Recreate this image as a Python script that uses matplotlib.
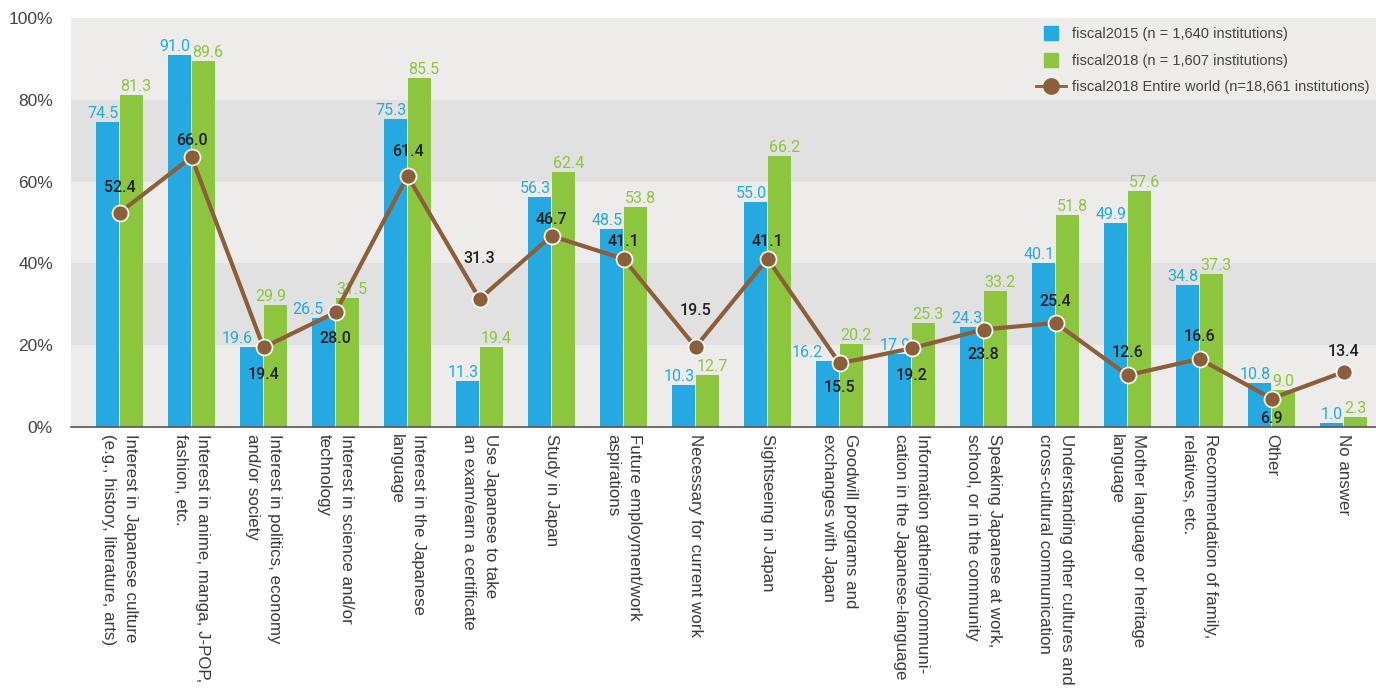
import matplotlib
matplotlib.use("Agg")
import matplotlib.pyplot as plt
from matplotlib.lines import Line2D
import numpy as np

categories = [
    "Interest in Japanese culture\n(e.g., history, literature, arts)",
    "Interest in anime, manga, J-POP,\nfashion, etc.",
    "Interest in politics, economy\nand/or society",
    "Interest in science and/or\ntechnology",
    "Interest in the Japanese\nlanguage",
    "Use Japanese to take\nan exam/earn a certificate",
    "Study in Japan",
    "Future employment/work\naspirations",
    "Necessary for current work",
    "Sightseeing in Japan",
    "Goodwill programs and\nexchanges with Japan",
    "Information gathering/communi-\ncation in the Japanese-language",
    "Speaking Japanese at work,\nschool, or in the community",
    "Understanding other cultures and\ncross-cultural communication",
    "Mother language or heritage\nlanguage",
    "Recommendation of family,\nrelatives, etc.",
    "Other",
    "No answer",
]
fiscal2015 = [74.5, 91.0, 19.6, 26.5, 75.3, 11.3, 56.3, 48.5, 10.3, 55.0,
              16.2, 17.9, 24.3, 40.1, 49.9, 34.8, 10.8, 1.0]
fiscal2018 = [81.3, 89.6, 29.9, 31.5, 85.5, 19.4, 62.4, 53.8, 12.7, 66.2,
              20.2, 25.3, 33.2, 51.8, 57.6, 37.3, 9.0, 2.3]
world2018 = [52.4, 66.0, 19.4, 28.0, 61.4, 31.3, 46.7, 41.1, 19.5, 41.1,
             15.5, 19.2, 23.8, 25.4, 12.6, 16.6, 6.9, 13.4]
series_names = ["fiscal2015 (n = 1,640 institutions)",
                "fiscal2018 (n = 1,607 institutions)",
                "fiscal2018 Entire world (n=18,661 institutions)"]
yticks = [0, 20, 40, 60, 80, 100]

# layout tweaks for labels (pixels)
world_dy = [25, 17, -27, -26, 24, 40, 16, 17, 37, 17, -24, -27, -25, 21, 23, 22, -20, 20]
blue_dx = [0, 0, -10, -11, 0, 0, 0, 0, 0, 0, -16, 0, 0, 0, 0, 0, 0, 0]
green_dx = [0, 0, -9, 0, 0, 0, 0, 0, 0, 0, 0, 0, 0, 0, 0, 0, 0, 0]

BLUE = "#25A9E0"
GREEN = "#8CC63F"
BROWN = "#8C5F3A"
DARK = "#231F20"
BAND_L = "#EDECEA"
BAND_D = "#E1E1E1"

fig = plt.figure(figsize=(13.76, 6.91), dpi=100)
ax = fig.add_axes([71/1376, (691-426.7)/691, 1 - 71/1376, (426.7-18.3)/691])

x = np.arange(len(categories))
w = 0.32
off = 0.167

# background bands
for i, (lo, hi) in enumerate(zip(yticks[:-1], yticks[1:])):
    ax.axhspan(lo, hi, color=BAND_D if i % 2 == 1 else BAND_L, zorder=0, lw=0)

ax.bar(x - off, fiscal2015, width=w, color=BLUE, zorder=2, lw=0)
ax.bar(x + off, fiscal2018, width=w, color=GREEN, zorder=2, lw=0)
ax.plot(x, world2018, color=BROWN, lw=3.0, marker="o", markersize=11.5,
        markerfacecolor=BROWN, markeredgecolor="white", markeredgewidth=1.2,
        zorder=4)

numfont = "Roboto"
nsize = 11.5
for i in range(len(x)):
    ax.annotate(f"{fiscal2015[i]:.1f}", (x[i], fiscal2015[i]),
                xytext=(blue_dx[i] - 1, 1), textcoords="offset pixels",
                ha="right", va="bottom", color=BLUE, fontsize=nsize,
                family=numfont, zorder=3)
    ax.annotate(f"{fiscal2018[i]:.1f}", (x[i], fiscal2018[i]),
                xytext=(green_dx[i] + 1, 1), textcoords="offset pixels",
                ha="left", va="bottom", color=GREEN, fontsize=nsize,
                family=numfont, zorder=3)
    ax.annotate(f"{world2018[i]:.1f}", (x[i], world2018[i]),
                xytext=(0, world_dy[i]), textcoords="offset pixels",
                ha="center", va="center", color=DARK, fontsize=nsize,
                family=numfont, fontweight="medium", zorder=5)

ax.set_xlim(-0.674, len(categories) - 1 + 0.45)
ax.set_ylim(0, 100)
ax.set_yticks(yticks)
ax.set_yticklabels([f"{t}%" for t in yticks], fontsize=12.5, color="#444444",
                   family="Liberation Sans")
ax.set_xticks(x)
ax.set_xticklabels(categories, rotation=270, ha="center", va="top",
                   multialignment="left", fontsize=12.2, color="#3a3a3a",
                   family="Liberation Sans", linespacing=1.6)
ax.tick_params(axis="y", length=0, pad=13)
ax.tick_params(axis="x", length=0, pad=5)
for s in ["top", "right", "left"]:
    ax.spines[s].set_visible(False)
ax.spines["bottom"].set_color("#555555")
ax.spines["bottom"].set_linewidth(1.2)
ax.spines["bottom"].set_zorder(6)

handles = [
    Line2D([], [], marker="s", linestyle="none", markersize=10,
           markerfacecolor=BLUE, markeredgecolor=BLUE),
    Line2D([], [], marker="s", linestyle="none", markersize=10,
           markerfacecolor=GREEN, markeredgecolor=GREEN),
    Line2D([], [], color=BROWN, lw=2.0, marker="o", markersize=11,
           markerfacecolor=BROWN, markeredgecolor=BROWN),
]
leg = fig.legend(handles, series_names, loc="upper left",
                 bbox_to_anchor=(1036/1376, (691-27)/691), frameon=False,
                 prop={"family": "Liberation Sans", "size": 10.5},
                 handlelength=2.05, handletextpad=0.4, labelspacing=0.87,
                 borderpad=0, borderaxespad=0)
for t in leg.get_texts():
    t.set_color("#444444")

fig.savefig("out.png", dpi=100)
